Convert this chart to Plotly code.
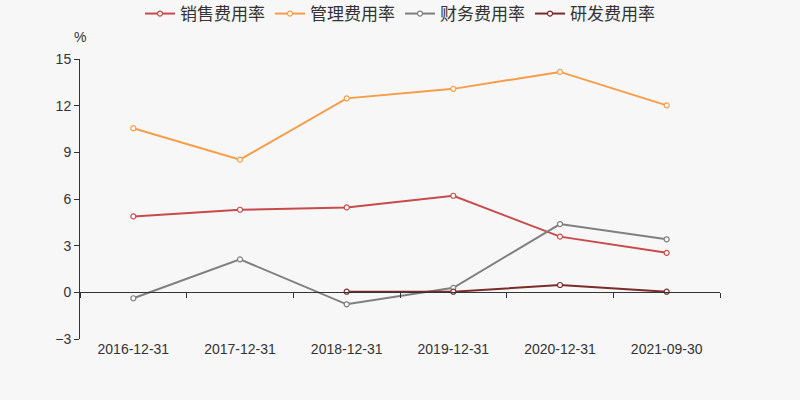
import plotly.graph_objects as go

dates = ["2016-12-31", "2017-12-31", "2018-12-31", "2019-12-31", "2020-12-31", "2021-09-30"]
sales = [4.88, 5.31, 5.46, 6.21, 3.58, 2.54]
mgmt = [10.55, 8.53, 12.47, 13.08, 14.17, 12.02]
fin = [-0.38, 2.12, -0.77, 0.29, 4.39, 3.41]
rnd = [None, None, 0.04, 0.04, 0.47, 0.04]

names = ["销售费用率", "管理费用率", "财务费用率", "研发费用率"]
colors = ["#c94a4a", "#f89c46", "#7f7f7f", "#7b2b2b"]
series = [sales, mgmt, fin, rnd]

FONT = "Liberation Sans, Arial, Noto Sans CJK SC, sans-serif"

fig = go.Figure()
for name, col, vals in zip(names, colors, series):
    fig.add_trace(go.Scatter(
        x=dates, y=vals, name=name, mode="lines+markers",
        line=dict(color=col, width=2),
        marker=dict(size=5, color="white", line=dict(color=col, width=1.2)),
        connectgaps=False,
    ))

# helper trace for the zero-anchored axis with boundary ticks
fig.add_trace(go.Scatter(x=dates, y=[None] * len(dates), xaxis="x2", showlegend=False,
                         hoverinfo="skip", mode="lines"))

fig.update_layout(
    width=800, height=400,
    paper_bgcolor="#f7f7f7", plot_bgcolor="#f7f7f7",
    margin=dict(l=80, r=80, t=59, b=61),
    font=dict(family=FONT, color="#333", size=13),
    showlegend=True,
    legend=dict(orientation="h", x=0.5, xanchor="center", y=0.965, yanchor="middle",
                yref="container", font=dict(size=17, family="Noto Sans CJK SC, sans-serif", color="#333"),
                itemwidth=30, bgcolor="rgba(0,0,0,0)"),
    xaxis=dict(type="category", categoryorder="array", categoryarray=dates,
               range=[-0.5, 5.5], showline=False, showgrid=False, ticks="",
               tickfont=dict(size=14, color="#333"), zeroline=False),
    xaxis2=dict(type="category", categoryorder="array", categoryarray=dates,
                range=[-0.5, 5.5], overlaying="x", anchor="free", position=3 / 18,
                showline=True, linecolor="#333", linewidth=1, showgrid=False,
                ticks="outside", ticklen=5, tickcolor="#333", tickson="boundaries",
                showticklabels=False, zeroline=False),
    yaxis=dict(range=[-3, 15], tickvals=[-3, 0, 3, 6, 9, 12, 15],
               ticktext=["\u22123", "0", "3", "6", "9", "12", "15"],
               showline=True, linecolor="#333", linewidth=1, ticks="outside",
               ticklen=5, tickcolor="#333", showgrid=False, zeroline=False,
               tickfont=dict(size=14, color="#333")),
    annotations=[dict(text="%", x=0, y=1.043, xref="paper", yref="paper", showarrow=False,
                      xanchor="center", yanchor="bottom",
                      font=dict(size=14, color="#333"))],
)

fig.write_html("out.html", config={"displayModeBar": False},
               post_script="document.body.style.margin='0';")
